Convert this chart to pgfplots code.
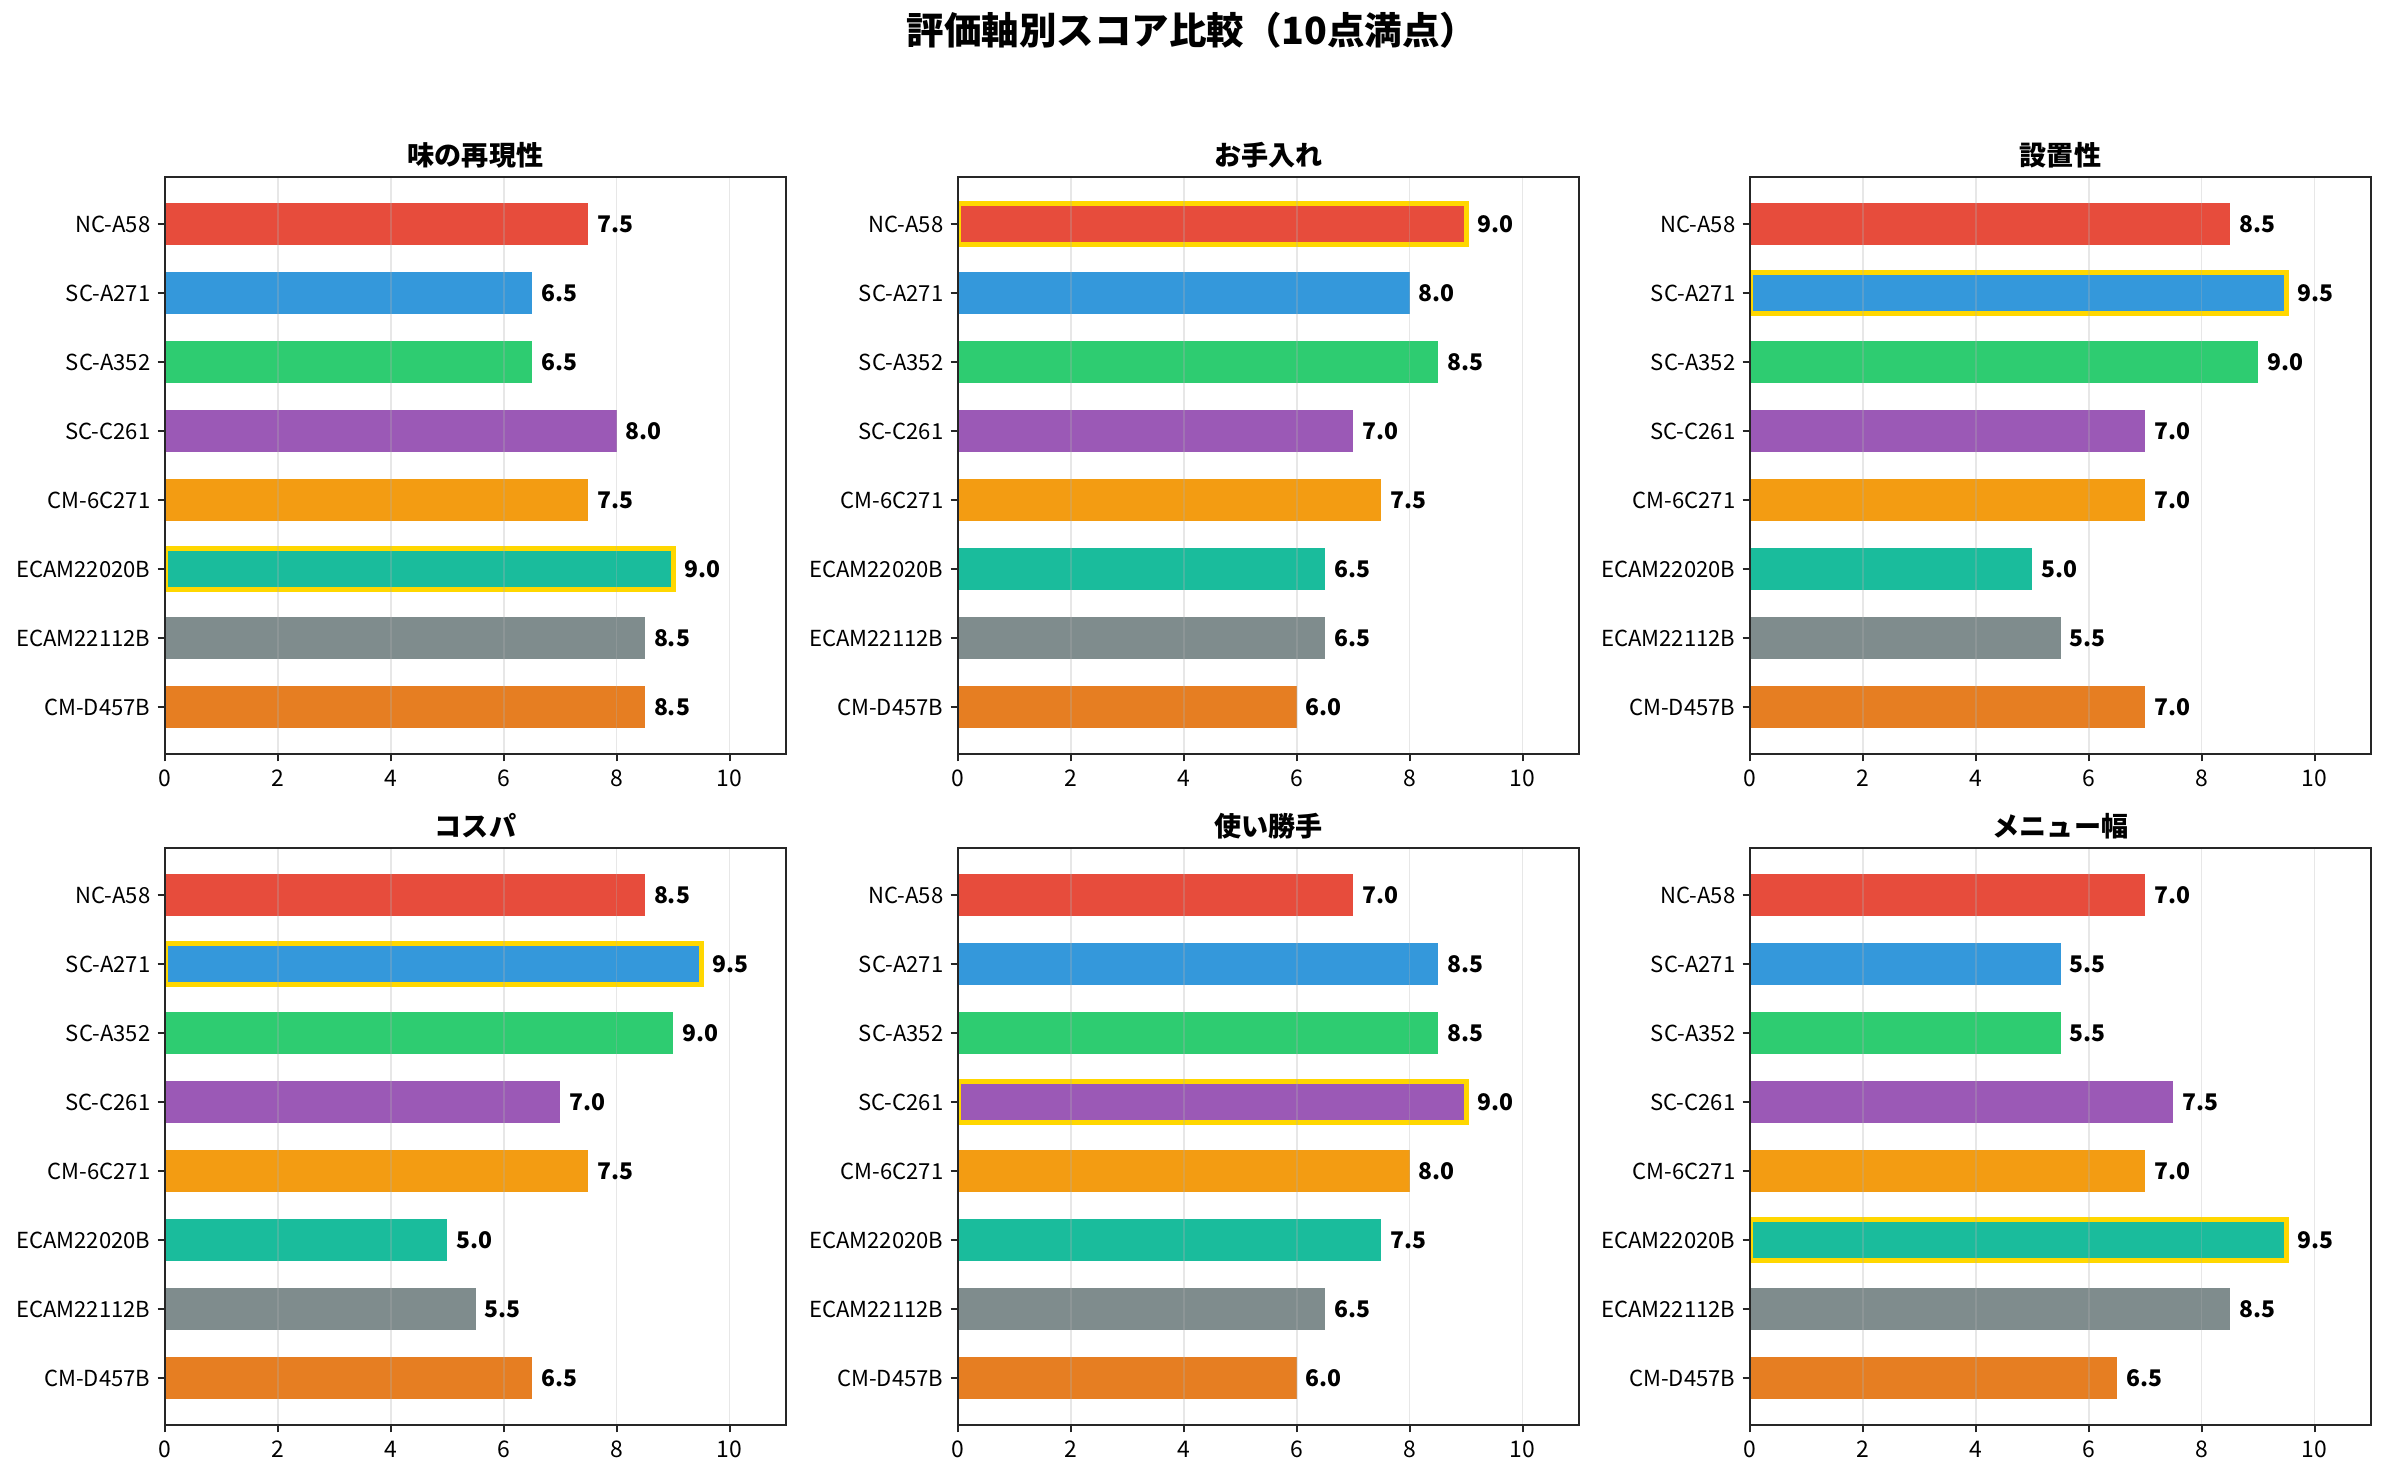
\documentclass[border=0pt]{standalone}
\usepackage{fontspec}
\setmainfont{Noto Sans CJK JP}
\usepackage{pgfplots}
\pgfplotsset{compat=1.18}
\definecolor{c1}{HTML}{E74C3C}
\definecolor{c2}{HTML}{3498DB}
\definecolor{c3}{HTML}{2ECC71}
\definecolor{c4}{HTML}{9B59B6}
\definecolor{c5}{HTML}{F39C12}
\definecolor{c6}{HTML}{1ABC9C}
\definecolor{c7}{HTML}{7F8C8D}
\definecolor{c8}{HTML}{E67E22}
\definecolor{gold}{HTML}{FFD700}
\definecolor{gridc}{HTML}{B0B0B0}
\definecolor{spine}{HTML}{262626}
\pgfplotsset{
 panel/.style={
  xbar, scale only axis, width=298.08pt, height=276.96pt,
  anchor=north west,
  xmin=0, xmax=11, ymin=-0.68, ymax=7.68, y dir=reverse,
  ytick={0,...,7},
  yticklabels={NC-A58,SC-A271,SC-A352,SC-C261,CM-6C271,ECAM22020B,ECAM22112B,CM-D457B},
  xtick={0,2,...,10},
  xmajorgrids, ymajorgrids=false,
  major grid style={color=gridc, opacity=0.3, line width=0.8pt},
  axis on top,
  axis line style={line width=1pt, color=spine},
  tick style={line width=1pt, color=spine},
  major tick length=3.5pt,
  tick align=outside, xtick pos=bottom, ytick pos=left,
  tick label style={font=\fontsize{10.6}{12}\selectfont, text=black},
  xticklabel style={font=\fontsize{11}{12}\selectfont, yshift=-0.6pt},
  /pgf/number format/assume math mode=true,
  bar width=0.6, bar shift=0pt,
  title style={font=\bfseries\fontsize{13}{15}\selectfont, at={(0.5,1)}, anchor=base, yshift=-0.3pt},
  point meta=x,
  nodes near coords={\pgfmathprintnumber[fixed,fixed zerofill,precision=1,assume math mode=true]{\pgfplotspointmeta}},
  nodes near coords align={horizontal},
  every node near coord/.append style={font=\bfseries\fontsize{11}{12}\selectfont, anchor=west, inner sep=0pt, xshift=4.2pt, text=black},
  every axis plot/.append style={draw=none},
 },
 hl/.style={draw=gold, line width=2.4pt},
}
\begin{document}
\begin{tikzpicture}
\path[use as bounding box] (0pt,0pt) rectangle (1144.8pt,-708.48pt);
\node[font=\bfseries\fontsize{18}{22}\selectfont] at (572.2pt,-14.4pt) {評価軸別スコア比較（10点満点）};

% Row 1, col 1
\begin{axis}[panel, at={(79.2pt,-84.96pt)}, title={味の再現性}]
\addplot[fill=c1] coordinates {(7.5,0)};
\addplot[fill=c2] coordinates {(6.5,1)};
\addplot[fill=c3] coordinates {(6.5,2)};
\addplot[fill=c4] coordinates {(8.0,3)};
\addplot[fill=c5] coordinates {(7.5,4)};
\addplot[fill=c6, hl] coordinates {(9.0,5)};
\addplot[fill=c7] coordinates {(8.5,6)};
\addplot[fill=c8] coordinates {(8.5,7)};
\end{axis}

% Row 1, col 2
\begin{axis}[panel, at={(459.84pt,-84.96pt)}, title={お手入れ}]
\addplot[fill=c1, hl] coordinates {(9.0,0)};
\addplot[fill=c2] coordinates {(8.0,1)};
\addplot[fill=c3] coordinates {(8.5,2)};
\addplot[fill=c4] coordinates {(7.0,3)};
\addplot[fill=c5] coordinates {(7.5,4)};
\addplot[fill=c6] coordinates {(6.5,5)};
\addplot[fill=c7] coordinates {(6.5,6)};
\addplot[fill=c8] coordinates {(6.0,7)};
\end{axis}

% Row 1, col 3
\begin{axis}[panel, at={(840.0pt,-84.96pt)}, title={設置性}]
\addplot[fill=c1] coordinates {(8.5,0)};
\addplot[fill=c2, hl] coordinates {(9.5,1)};
\addplot[fill=c3] coordinates {(9.0,2)};
\addplot[fill=c4] coordinates {(7.0,3)};
\addplot[fill=c5] coordinates {(7.0,4)};
\addplot[fill=c6] coordinates {(5.0,5)};
\addplot[fill=c7] coordinates {(5.5,6)};
\addplot[fill=c8] coordinates {(7.0,7)};
\end{axis}

% Row 2, col 1
\begin{axis}[panel, at={(79.2pt,-407.04pt)}, title={コスパ}]
\addplot[fill=c1] coordinates {(8.5,0)};
\addplot[fill=c2, hl] coordinates {(9.5,1)};
\addplot[fill=c3] coordinates {(9.0,2)};
\addplot[fill=c4] coordinates {(7.0,3)};
\addplot[fill=c5] coordinates {(7.5,4)};
\addplot[fill=c6] coordinates {(5.0,5)};
\addplot[fill=c7] coordinates {(5.5,6)};
\addplot[fill=c8] coordinates {(6.5,7)};
\end{axis}

% Row 2, col 2
\begin{axis}[panel, at={(459.84pt,-407.04pt)}, title={使い勝手}]
\addplot[fill=c1] coordinates {(7.0,0)};
\addplot[fill=c2] coordinates {(8.5,1)};
\addplot[fill=c3] coordinates {(8.5,2)};
\addplot[fill=c4, hl] coordinates {(9.0,3)};
\addplot[fill=c5] coordinates {(8.0,4)};
\addplot[fill=c6] coordinates {(7.5,5)};
\addplot[fill=c7] coordinates {(6.5,6)};
\addplot[fill=c8] coordinates {(6.0,7)};
\end{axis}

% Row 2, col 3
\begin{axis}[panel, at={(840.0pt,-407.04pt)}, title={メニュー幅}]
\addplot[fill=c1] coordinates {(7.0,0)};
\addplot[fill=c2] coordinates {(5.5,1)};
\addplot[fill=c3] coordinates {(5.5,2)};
\addplot[fill=c4] coordinates {(7.5,3)};
\addplot[fill=c5] coordinates {(7.0,4)};
\addplot[fill=c6, hl] coordinates {(9.5,5)};
\addplot[fill=c7] coordinates {(8.5,6)};
\addplot[fill=c8] coordinates {(6.5,7)};
\end{axis}
\end{tikzpicture}
\end{document}
